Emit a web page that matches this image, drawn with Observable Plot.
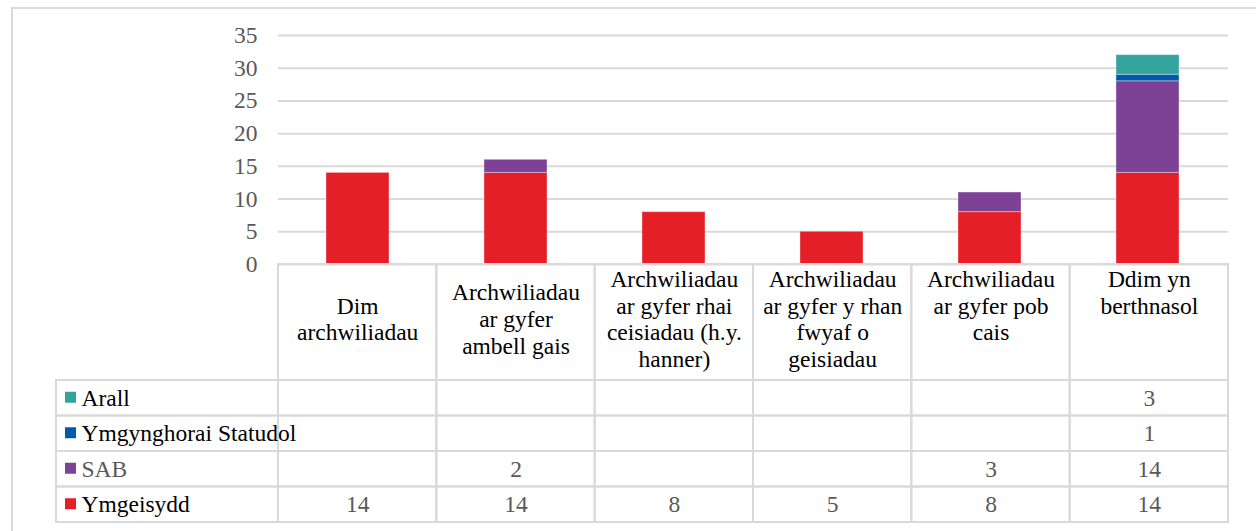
<!DOCTYPE html>
<html>
<head>
<meta charset="utf-8">
<script src="https://cdn.jsdelivr.net/npm/d3@7"></script>
<script src="https://cdn.jsdelivr.net/npm/@observablehq/plot@0.6"></script>
<style>
  html, body { margin: 0; padding: 0; background: #fff; overflow: hidden; }
  body { width: 1256px; height: 531px; position: relative; font-family: "Liberation Serif", serif; }
  #frame { position: absolute; left: 11px; top: 7px; width: 1300px; height: 600px; border: 2px solid #d9d9d9; box-sizing: border-box; }
  #chart { position: absolute; left: 0; top: 0; }
  #table { position: absolute; left: 0; top: 262px; }
  svg { background: transparent !important; overflow: visible !important; }
  svg text { font-family: "Liberation Serif", "Times New Roman", serif !important; }
</style>
</head>
<body>
<div id="frame"></div>
<div id="chart"></div>
<div id="table"></div>
<script>
// ---- data ----
const categories = [
  "Dim archwiliadau",
  "Archwiliadau ar gyfer ambell gais",
  "Archwiliadau ar gyfer rhai ceisiadau (h.y. hanner)",
  "Archwiliadau ar gyfer y rhan fwyaf o geisiadau",
  "Archwiliadau ar gyfer pob cais",
  "Ddim yn berthnasol"
];
const categoryLabels = [
  "Dim\narchwiliadau",
  "Archwiliadau\nar gyfer\nambell gais",
  "Archwiliadau\nar gyfer rhai\nceisiadau (h.y.\nhanner)",
  "Archwiliadau\nar gyfer y rhan\nfwyaf o\ngeisiadau",
  "Archwiliadau\nar gyfer pob\ncais\n ",
  "Ddim yn\nberthnasol\n \n "
];
// series, bottom of stack first
const seriesNames = ["Ymgeisydd", "SAB", "Ymgynghorai Statudol", "Arall"];
const ymgeisydd = [14, 14, 8, 5, 8, 14];
const sab = [null, 2, null, null, 3, 14];
const ymgynghorai = [null, null, null, null, null, 1];
const arall = [null, null, null, null, null, 3];
const seriesColors = ["#e41f27", "#7d4195", "#0059a9", "#33a39e"];
const yTicks = [0, 5, 10, 15, 20, 25, 30, 35];

const seriesValues = [ymgeisydd, sab, ymgynghorai, arall];
const rows = seriesNames.flatMap((s, si) =>
  categories.map((c, ci) => ({series: s, si, category: c, ci, value: seriesValues[si][ci]})));
const barRows = rows.filter(d => d.value != null && d.value > 0);

const FONT = "Liberation Serif";
const GRID = "#d9d9d9";
const GRAY = "#595959";
const FS = 23.5;

// ---- bar chart ----
const chart = Plot.plot({
  width: 1256,
  height: 290,
  marginLeft: 278,
  marginRight: 28,
  marginTop: 35,
  marginBottom: 26,
  style: {fontFamily: FONT, fontSize: FS + "px", background: "transparent"},
  x: {domain: categories, paddingInner: 0.6, paddingOuter: 0.3, axis: null},
  y: {domain: [0, 35], axis: null},
  color: {domain: seriesNames, range: seriesColors},
  marks: [
    Plot.gridY(yTicks, {stroke: GRID, strokeOpacity: 1, strokeWidth: 2}),
    Plot.barY(barRows, {x: "category", y: "value", fill: "series", stroke: "#ffffff", strokeOpacity: 0.35, strokeWidth: 1}),
    Plot.axisY(yTicks, {tickSize: 0, tickPadding: 21, color: GRAY, fontSize: FS, label: null, tickFormat: d => String(d)})
  ]
});
document.getElementById("chart").appendChild(chart);

// ---- data table ----
const HEADER_ROWS = 116 / 35.5;  // header height in row units
const LABEL_COLS = 222 / 158.33; // label column width in column units
const nRows = seriesNames.length;
const tableRows = seriesNames.map((s, si) => ({series: s, r: nRows - 1 - si, color: seriesColors[si]}));
const cells = rows.map(d => ({...d, r: nRows - 1 - d.si}));
const headers = categories.map((c, i) => ({category: c, i, label: categoryLabels[i]}));

const table = Plot.plot({
  width: 1256,
  height: 264,
  marginLeft: 56,
  marginRight: 28,
  marginTop: 2,
  marginBottom: 4,
  style: {fontFamily: FONT, fontSize: FS + "px", background: "transparent"},
  x: {domain: [-LABEL_COLS, categories.length], axis: null},
  y: {domain: [-HEADER_ROWS, nRows], reverse: true, axis: null},
  marks: [
    Plot.rect(headers, {x1: d => d.i, x2: d => d.i + 1, y1: -HEADER_ROWS, y2: 0, fill: "none", stroke: GRID, strokeWidth: 2}),
    Plot.rect(tableRows, {x1: -LABEL_COLS, x2: 0, y1: d => d.r, y2: d => d.r + 1, fill: "none", stroke: GRID, strokeWidth: 2}),
    Plot.rect(cells, {x1: d => d.ci, x2: d => d.ci + 1, y1: d => d.r, y2: d => d.r + 1, fill: "none", stroke: GRID, strokeWidth: 2}),
    Plot.text(headers, {x: d => d.i + 0.5, y: -HEADER_ROWS / 2, dy: -4, text: "label", fill: "#000", fontSize: FS, lineHeight: 1.13, lineAnchor: "middle"}),
    Plot.text(cells.filter(d => d.value != null), {x: d => d.ci + 0.5, y: d => d.r + 0.5, text: d => String(d.value), fill: GRAY, fontSize: FS}),
    Plot.dot(tableRows, {x: -LABEL_COLS, y: d => d.r + 0.5, dx: 14, dy: -1, symbol: "square", r: 6.2, fill: d => d.color, stroke: "none"}),
    Plot.text(tableRows, {x: -LABEL_COLS, y: d => d.r + 0.5, dx: 25, text: "series", textAnchor: "start", fontSize: FS, fill: d => d.series === "SAB" ? GRAY : "#000"})
  ]
});
document.getElementById("table").appendChild(table);
</script>
</body>
</html>
